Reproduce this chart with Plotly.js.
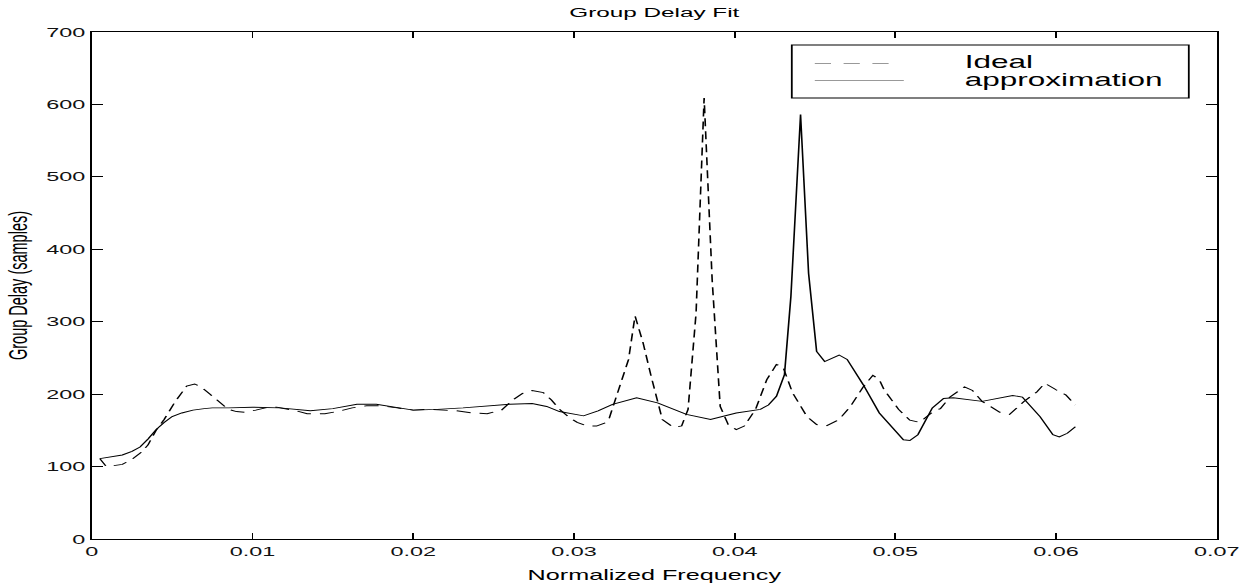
<!DOCTYPE html>
<html><head><meta charset="utf-8">
<script src="https://cdn.plot.ly/plotly-3.0.1.min.js"></script>
<style>
html,body{margin:0;padding:0;background:#fff;overflow:hidden}
#wrap{width:1255px;height:584px;overflow:hidden}
#plot{width:697.2px;height:584px;transform:scaleX(1.8);transform-origin:0 0}
</style>
</head><body><div id="wrap"><div id="plot"></div></div>
<script>
// ---- data ----
const idealFreq = [0.0005,0.0009,0.0019,0.0025,0.0031,0.0035,0.0040,0.0045,0.0052,0.0059,0.0064,0.0068,0.0074,0.0079,0.0085,0.0090,0.0095,0.0102,0.0108,0.0115,0.0120,0.0127,0.0134,0.0145,0.0153,0.0162,0.0171,0.0180,0.0190,0.0200,0.0210,0.0220,0.0227,0.0237,0.0246,0.0255,0.0262,0.0268,0.0274,0.0281,0.0286,0.0291,0.0297,0.0302,0.0308,0.0314,0.0319,0.0322,0.0327,0.0334,0.0338,0.0343,0.0348,0.0352,0.0355,0.0362,0.0367,0.0371,0.0376,0.0381,0.0386,0.0391,0.0396,0.0401,0.0406,0.0413,0.0420,0.0426,0.0430,0.0436,0.0445,0.0451,0.0457,0.0465,0.0472,0.0480,0.0486,0.0490,0.0493,0.0502,0.0509,0.0515,0.0523,0.0528,0.0534,0.0543,0.0548,0.0554,0.0558,0.0565,0.0571,0.0580,0.0588,0.0593,0.0600,0.0606,0.0612];
const idealDelay = [111,100,103,110,120,130,150,165,190,211,214,210,199,189,179,176,175,178,181,182,180,177,173,173,176,181,184,184,181,178,179,178,177,174,173,178,192,201,205,202,192,179,168,161,156,156,160,167,202,248,308,271,225,190,165,154,156,179,312,609,358,183,158,151,156,179,220,241,238,202,169,158,156,165,183,210,226,220,206,179,164,161,175,180,196,210,205,190,184,175,172,190,203,215,206,199,185];

const approxFreq = [0.0005,0.0012,0.0019,0.0025,0.0030,0.0035,0.0040,0.0045,0.0050,0.0056,0.0063,0.0070,0.0075,0.0085,0.0100,0.0117,0.0136,0.0150,0.0165,0.0177,0.0190,0.0200,0.0215,0.0231,0.0260,0.0274,0.0283,0.0291,0.0306,0.0315,0.0324,0.0339,0.0352,0.0370,0.0385,0.0401,0.0416,0.0421,0.0426,0.0431,0.0435,0.0441,0.0446,0.0451,0.0456,0.0465,0.0470,0.0480,0.0490,0.0505,0.0509,0.0514,0.0523,0.0530,0.0536,0.0554,0.0573,0.0579,0.0590,0.0598,0.0602,0.0607,0.0612];
const approxDelay = [111,113,116,121,127,138,151,161,169,174,178,180,181,181,182,181,177,180,186,186,182,178,179,181,186,187,183,176,170,177,186,195,188,172,165,174,179,185,197,227,335,586,367,259,245,254,248,213,174,137,136,144,181,194,195,190,198,196,169,144,141,146,155];

const seriesNames = ['Ideal', 'approximation'];
const xTickVals = [0,0.01,0.02,0.03,0.04,0.05,0.06,0.07];
const xTickText = ['0','0.01','0.02','0.03','0.04','0.05','0.06','0.07'];
const yTickVals = [0,100,200,300,400,500,600,700];
const yTickText = ['0','100','200','300','400','500','600','700'];

// ---- layout ----
const K = 1.8;                 // horizontal stretch of the reference picture
const W = 1255 / K;
const FONT = '"Liberation Sans", Arial, Helvetica, sans-serif';
const px2x = X => (X - 92) / 1125;   // stretched pixel -> paper x
const px2y = Y => (539 - Y) / 507;   // pixel -> paper y

const traces = [
  {x: idealFreq, y: idealDelay, name: seriesNames[0], type: 'scatter', mode: 'lines',
   line: {color: '#000', width: 0.9, dash: '8px,5px'}, hoverinfo: 'skip'},
  {x: approxFreq, y: approxDelay, name: seriesNames[1], type: 'scatter', mode: 'lines',
   line: {color: '#000', width: 0.9}, hoverinfo: 'skip'}
];

const axisCommon = {
  showgrid: false, zeroline: false, showline: true, linecolor: '#000', linewidth: 1,
  mirror: 'ticks', ticks: 'inside', ticklen: 6, tickwidth: 1, tickcolor: '#000',
  tickfont: {family: FONT, size: 13, color: '#111'}, tickmode: 'array', fixedrange: true
};

const layout = {
  width: W, height: 584,
  margin: {l: 92 / K, r: 38 / K, t: 32, b: 45, pad: 0},
  paper_bgcolor: '#fff', plot_bgcolor: '#fff',
  showlegend: false,
  font: {family: FONT, color: '#000'},
  title: {text: 'Group Delay Fit', font: {family: FONT, size: 13.5, color: '#000'},
          x: 0.5, xref: 'paper', y: 1 - 12.5 / 584, yref: 'container', yanchor: 'middle'},
  xaxis: Object.assign({}, axisCommon, {
    range: [0, 0.07], tickvals: xTickVals, ticktext: xTickText,
    title: {text: 'Normalized Frequency', font: {family: FONT, size: 14, color: '#000'}, standoff: 12}
  }),
  yaxis: Object.assign({}, axisCommon, {
    range: [0, 700], tickvals: yTickVals, ticktext: yTickText,
    title: {text: 'Group Delay (samples)', font: {family: FONT, size: 14.5, color: '#000'}, standoff: 6}
  }),
  shapes: [
    {type: 'rect', xref: 'paper', yref: 'paper', x0: px2x(792), x1: px2x(1189), y0: px2y(98), y1: px2y(45),
     line: {color: '#000', width: 1}, fillcolor: '#fff', layer: 'above'},
    {type: 'line', xref: 'paper', yref: 'paper', x0: px2x(815), x1: px2x(890), y0: px2y(63.5), y1: px2y(63.5),
     line: {color: '#999', width: 1, dash: '9px,7px'}, layer: 'above'},
    {type: 'line', xref: 'paper', yref: 'paper', x0: px2x(815), x1: px2x(904), y0: px2y(80.5), y1: px2y(80.5),
     line: {color: '#999', width: 1}, layer: 'above'}
  ],
  annotations: [
    {text: seriesNames[0], xref: 'paper', yref: 'paper', x: px2x(961), y: px2y(62), xanchor: 'left', yanchor: 'middle',
     showarrow: false, font: {family: FONT, size: 17.5, color: '#000'}},
    {text: seriesNames[1], xref: 'paper', yref: 'paper', x: px2x(961), y: px2y(80), xanchor: 'left', yanchor: 'middle',
     showarrow: false, font: {family: FONT, size: 17.5, color: '#000'}}
  ]
};

Plotly.newPlot('plot', traces, layout, {displayModeBar: false, staticPlot: true});
</script>
</body></html>
